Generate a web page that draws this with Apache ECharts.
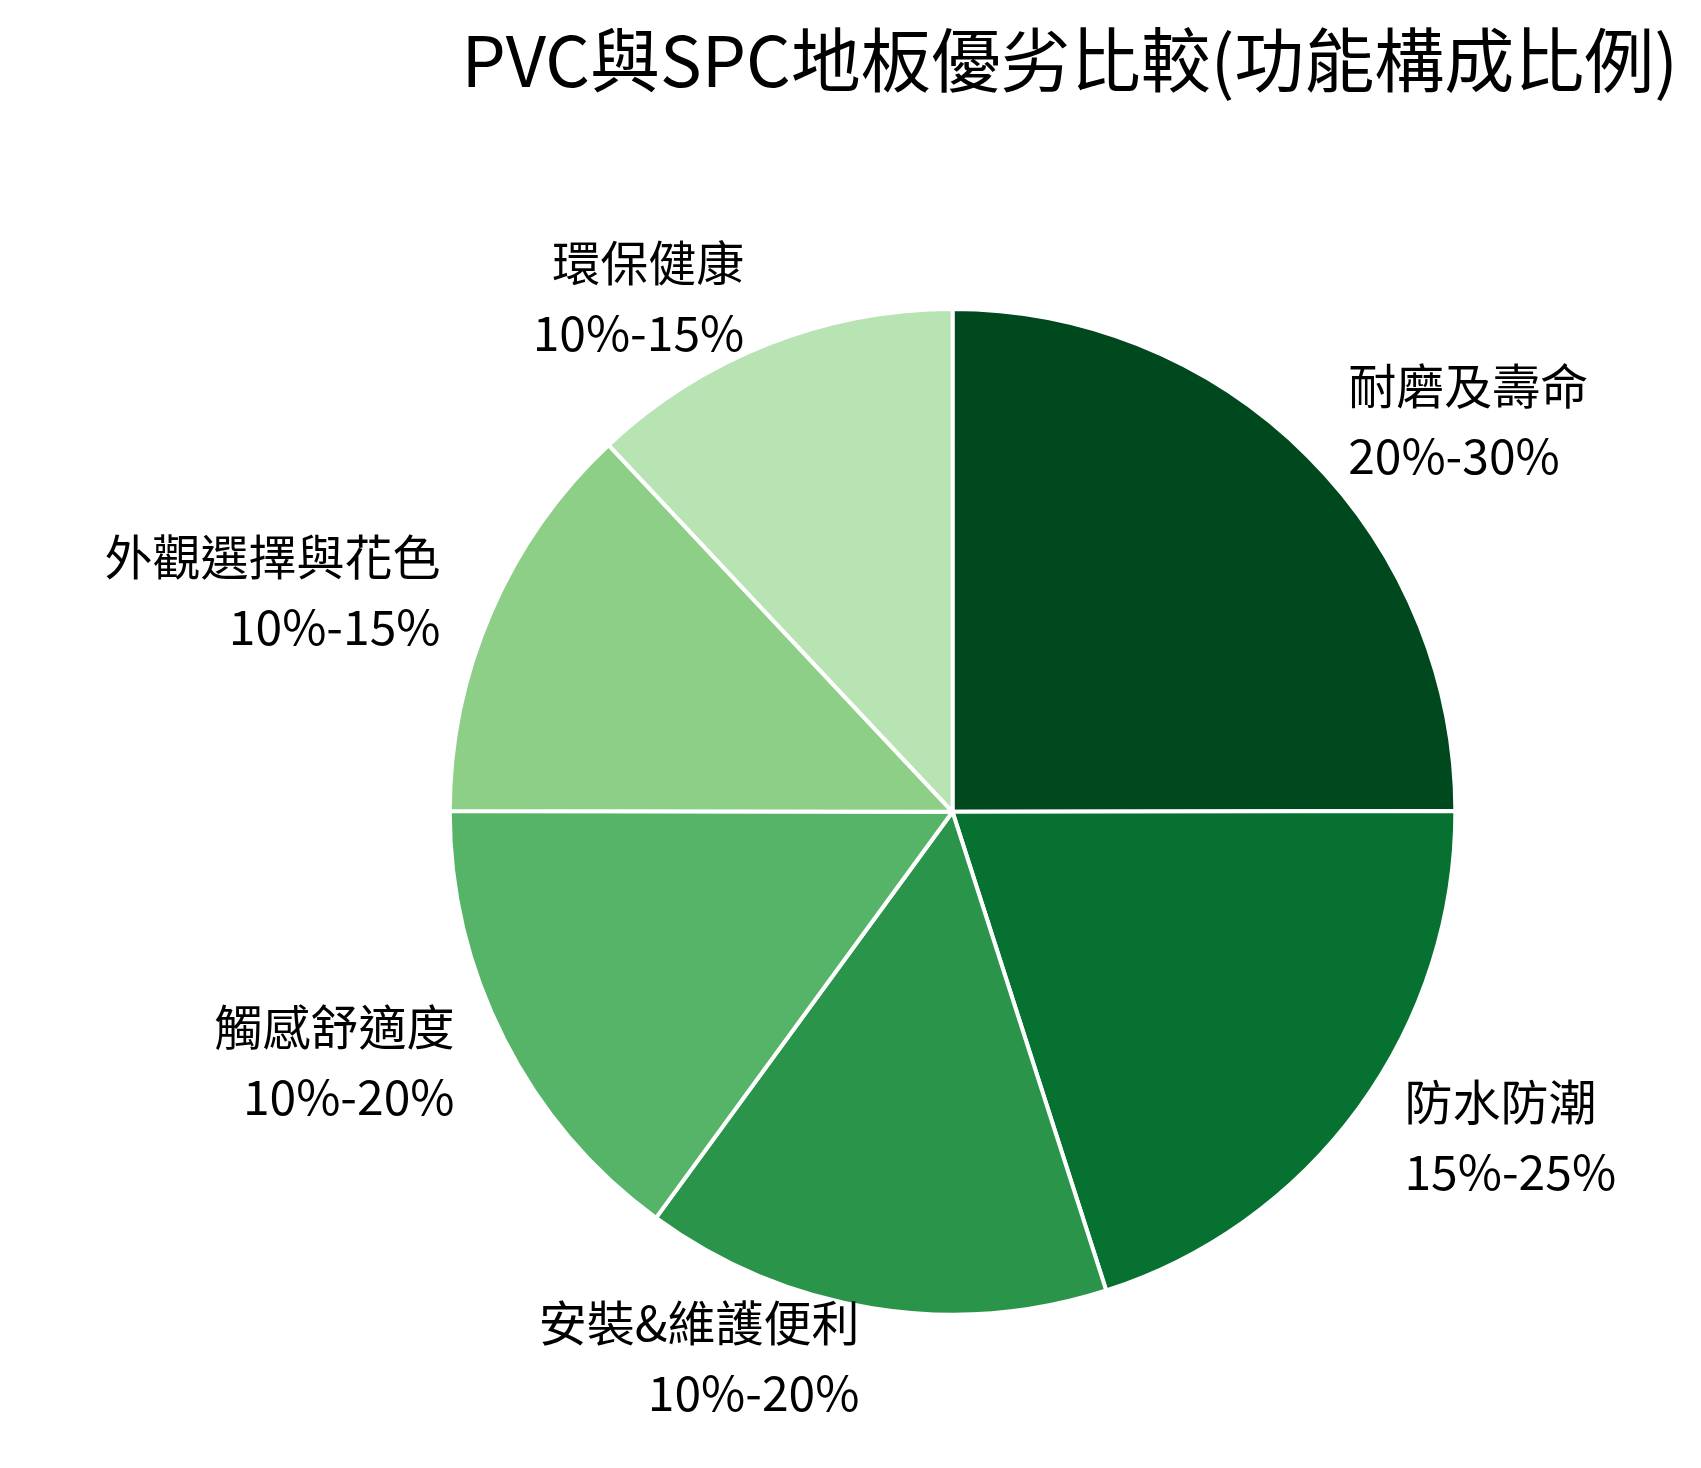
<!DOCTYPE html><html><head><meta charset="utf-8"><script src="https://cdn.jsdelivr.net/npm/echarts@6/dist/echarts.min.js"></script>
<style>html,body{margin:0;padding:0;background:#fff}#c{width:1701px;height:1468px}</style></head><body><div id="c"></div><script>
const categories=['耐磨及壽命','防水防潮','安裝&維護便利','觸感舒適度','外觀選擇與花色','環保健康'];
const ranges=['20%-30%','15%-25%','10%-20%','10%-20%','10%-15%','10%-15%'];
const values=[25,20.1,15,15,13,12];
const colors=['#00481e','#067130','#2b944b','#56b468','#8ecf87','#b8e3b2'];
const chart=echarts.init(document.getElementById('c'));
chart.setOption({
 title:{text:'PVC與SPC地板優劣比較(功能構成比例)',right:18,top:20,textStyle:{fontFamily:'Noto Sans CJK TC',fontSize:70,fontWeight:'normal',color:'#000'}},
 series:[{type:'pie',center:['56%','55.3%'],radius:'68.5%',startAngle:90,clockwise:true,
  itemStyle:{borderColor:'#fff',borderWidth:4},
  label:{show:true,position:'outside',fontFamily:'Noto Sans CJK TC',fontSize:48,lineHeight:70,color:'#000',
   formatter:p=>p.name+'\n'+ranges[p.dataIndex]},
  labelLine:{show:false,length:50,length2:0},
  emphasis:{disabled:true},
  data:categories.map((c,i)=>({name:c,value:values[i],itemStyle:{color:colors[i]}}))}]
});
</script></body></html>
